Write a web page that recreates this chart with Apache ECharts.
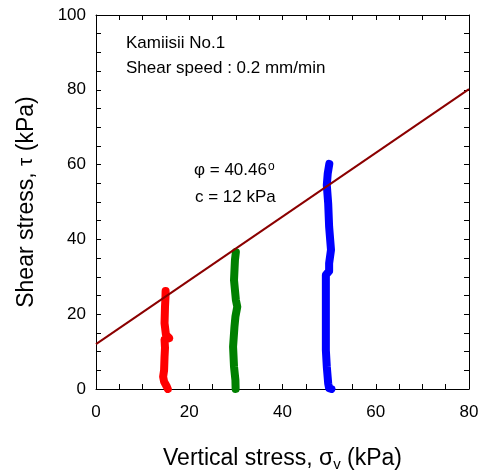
<!DOCTYPE html>
<html>
<head>
<meta charset="utf-8">
<script src="https://cdn.jsdelivr.net/npm/echarts@6/dist/echarts.min.js"></script>
<style>
  html, body { margin: 0; padding: 0; background: #fff; }
  #chart { width: 483px; height: 471px; }
</style>
</head>
<body>
<div id="chart"></div>
<script>
// ---- data ----
const xTickLabels = [0, 20, 40, 60, 80];
const yTickLabels = [0, 20, 40, 60, 80, 100];
// [vertical stress σv (kPa), shear stress τ (kPa)]
const redPoints = [[15.4, 0], [15.2, 0.6], [14.6, 2], [14.4, 3.3], [14.6, 5], [14.7, 8.6], [14.8, 11],
  [14.7, 13.2], [15.7, 13.6], [15.0, 14.5], [14.7, 17.6], [14.8, 22], [14.9, 24.5], [14.93, 26.2]];
const greenPoints = [[29.95, 0], [29.9, 2.4], [29.6, 6], [29.4, 11.3], [29.7, 16.7], [29.9, 19.3],
  [30.3, 22], [30.0, 23.8], [29.6, 29.1], [29.8, 34.5], [30.0, 36.6]];
const bluePoints = [[50.5, 0], [50.0, 0.2], [49.8, 1.5], [49.5, 6], [49.3, 10.4], [49.3, 19.3],
  [49.3, 28.3], [49.3, 30.5], [50.0, 31.5], [50.0, 33.6], [50.4, 37.2], [50.0, 43.4], [49.8, 49.6],
  [49.5, 54.5], [49.7, 57.6], [50.04, 60.2]];
const fitLine = [[0, 12], [80, 80.2]];
const noteLines = ['Kamiisii No.1', 'Shear speed : 0.2 mm/min'];
const phiText = '40.46';
const cText = 'c = 12 kPa';

// ---- chart ----
const FONT = '"Liberation Sans", Arial, sans-serif';
const chart = echarts.init(document.getElementById('chart'), null, { renderer: 'canvas' });

const lineStyleAxis = { show: true, onZero: false, lineStyle: { color: '#000', width: 1 } };
const tickStyle = { show: true, inside: true, length: 5, lineStyle: { color: '#000', width: 1 } };

function fmt(list) {
  return function (v) { return list.indexOf(v) >= 0 ? String(v) : ''; };
}

function pathSeries(data, color) {
  return {
    type: 'line', data: data, showSymbol: false, symbol: 'none', smooth: false,
    lineStyle: { color: color, width: 8, cap: 'round', join: 'round' },
    z: 2, silent: true, animation: false
  };
}

const option = {
  animation: false,
  backgroundColor: '#fff',
  grid: { left: 96, top: 15, width: 373, height: 374, containLabel: false, outerBoundsMode: 'none' },
  xAxis: [
    {
      type: 'value', min: 0, max: 80, interval: 5, position: 'bottom',
      axisLine: lineStyleAxis, axisTick: tickStyle, splitLine: { show: false },
      axisLabel: { formatter: fmt(xTickLabels), fontSize: 17, color: '#000', fontFamily: FONT, margin: 15 },
      name: '{a|Vertical stress, }{g|σ}{s|v}{a| (kPa)}',
      nameLocation: 'middle', nameGap: 56,
      nameTextStyle: {
        color: '#000', fontFamily: FONT, fontSize: 23,
        rich: {
          a: { fontSize: 23, fontFamily: FONT, color: '#000' },
          g: { fontSize: 23, fontFamily: FONT, color: '#000' },
          s: { fontSize: 15, fontFamily: FONT, color: '#000', verticalAlign: 'bottom', padding: [12, 0, 0, 0] }
        }
      }
    },
    {
      type: 'value', min: 0, max: 80, interval: 5, position: 'top',
      axisLine: lineStyleAxis, axisTick: tickStyle, splitLine: { show: false },
      axisLabel: { show: false }
    }
  ],
  yAxis: [
    {
      type: 'value', min: 0, max: 100, interval: 5, position: 'left',
      axisLine: lineStyleAxis, axisTick: tickStyle, splitLine: { show: false },
      axisLabel: { formatter: fmt(yTickLabels), fontSize: 17, color: '#000', fontFamily: FONT, margin: 10 },
      name: '{a|Shear stress, }{g|τ}{a| (kPa)}',
      nameLocation: 'middle', nameGap: 58, nameRotate: 90,
      nameTextStyle: {
        color: '#000', fontFamily: FONT, fontSize: 23,
        rich: {
          a: { fontSize: 23, fontFamily: FONT, color: '#000' },
          g: { fontSize: 21, fontFamily: FONT, color: '#000' }
        }
      }
    },
    {
      type: 'value', min: 0, max: 100, interval: 5, position: 'right',
      axisLine: lineStyleAxis, axisTick: tickStyle, splitLine: { show: false },
      axisLabel: { show: false }
    }
  ],
  series: [
    pathSeries(redPoints, '#FF0000'),
    pathSeries(greenPoints, '#008000'),
    pathSeries(bluePoints, '#0000FF'),
    {
      type: 'line', data: fitLine, showSymbol: false, symbol: 'none',
      lineStyle: { color: '#8B0000', width: 2 }, z: 5, silent: true, animation: false
    }
  ],
  graphic: [
    { type: 'text', left: 126, top: 35, style: { text: noteLines[0], font: '17px ' + FONT, fill: '#000' } },
    { type: 'text', left: 126, top: 60, style: { text: noteLines[1], font: '17px ' + FONT, fill: '#000' } },
    {
      type: 'text', left: 194, top: 161,
      style: {
        text: '{a|φ = ' + phiText + '}{p|o}',
        rich: {
          a: { fontSize: 17, fontFamily: FONT, fill: '#000', color: '#000' },
          p: { fontSize: 12, fontFamily: FONT, fill: '#000', color: '#000', verticalAlign: 'top', padding: [0, 0, 6, 1] }
        }
      }
    },
    { type: 'text', left: 195, top: 189, style: { text: cText, font: '17px ' + FONT, fill: '#000' } }
  ]
};
chart.setOption(option);
</script>
</body>
</html>
